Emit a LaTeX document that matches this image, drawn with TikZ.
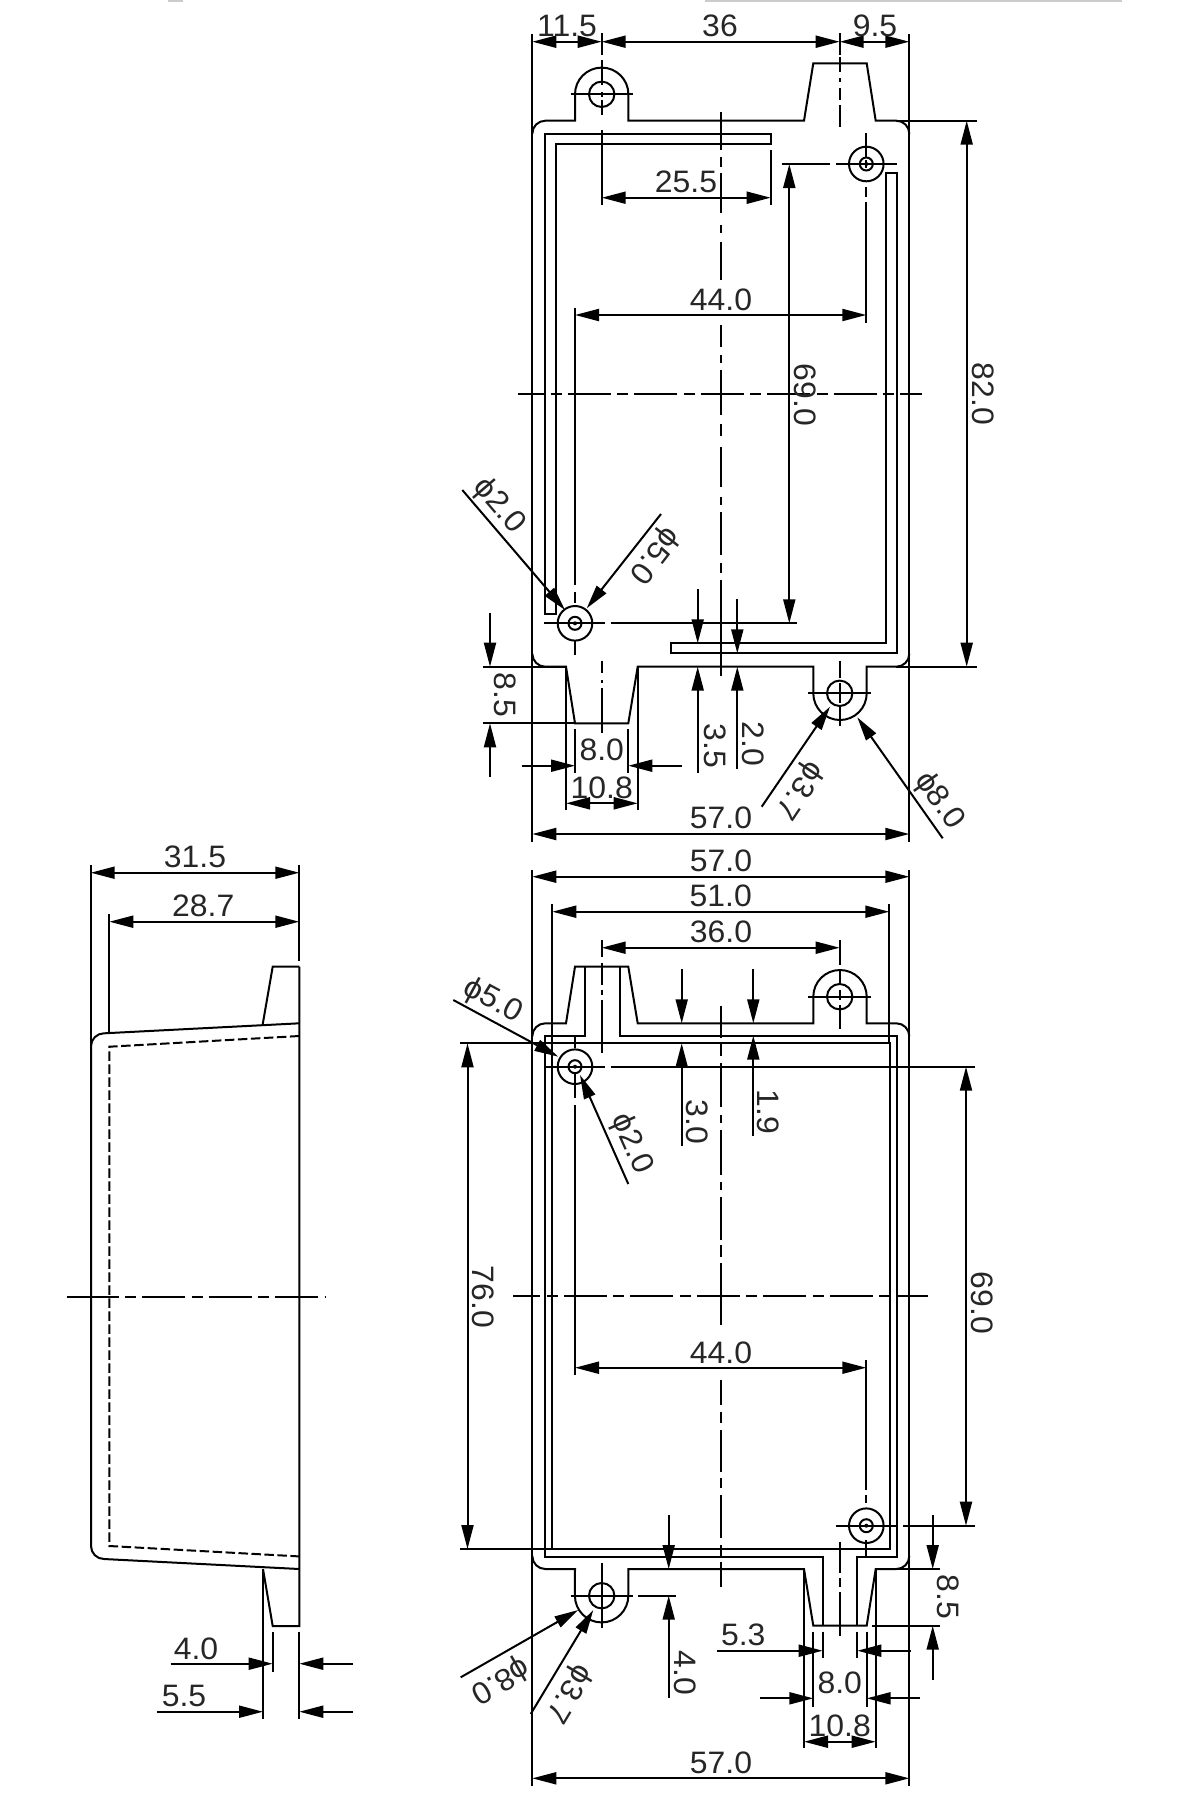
\documentclass[tikz,border=0pt]{standalone}
\usepackage{fontspec}
\setmainfont[FakeStretch=1.03]{Liberation Sans}
\usetikzlibrary{arrows.meta}
\tikzset{
  ln/.style={line width=2pt,line cap=butt,line join=miter,black},
  dimboth/.style={ln,{Triangle[length=24pt,width=12pt]}-{Triangle[length=24pt,width=12pt]}},
  dimto/.style={ln,-{Triangle[length=24pt,width=12pt]}},
  cl/.style={ln,dash pattern=on 43pt off 6.5pt on 11pt off 6pt},
  dsh/.style={ln,dash pattern=on 9.5pt off 3.5pt},
  lbl/.style={inner sep=0pt,font=\fontsize{31}{31}\selectfont,text=black!85}
}
\newcommand{\segs}[2]{\foreach \a/\b in {#2}{\draw[ln] (#1,\a) -- (#1,\b);}}
\newcommand{\bighole}[2]{\draw[ln] (#1,#2) circle[radius=17.3pt] (#1,#2) circle[radius=6.5pt];\fill (#1,#2) circle[radius=2pt];}
\newcommand{\smallhole}[2]{\draw[ln] (#1,#2) circle[radius=12.7pt];\fill (#1,#2) circle[radius=1.2pt];}
\begin{document}
\begin{tikzpicture}[x=1pt,y=-1pt]
\useasboundingbox (0,0) rectangle (1200,1800);
\fill[black!20] (705,0) rectangle (1122,1.6);
\fill[black!20] (168,0) rectangle (183,1.6);

%% ---------- TOP VIEW ----------
\draw[ln] (532.3,34) -- (532.3,841.7);
\draw[ln] (909.3,34) -- (909.3,841.7);
% outline
\draw[ln] (532.3,133.7) arc[start angle=180,end angle=90,radius=13pt] -- (575,120.7) -- (575,94.3)
  arc[start angle=180,end angle=0,radius=26.7pt] -- (628.3,120.7) -- (804,120.7) -- (813.3,63.3) -- (866.7,63.3) -- (875.7,120.7) -- (896.3,120.7)
  arc[start angle=90,end angle=0,radius=13pt];
\draw[ln] (909.3,653.7) arc[start angle=0,end angle=-90,radius=13pt] -- (866.7,666.7) -- (866.7,693.3)
  arc[start angle=360,end angle=180,radius=26.7pt] -- (813.3,666.7) -- (637.7,666.7) -- (628.3,723.3) -- (575,723.3) -- (566,666.7) -- (545.3,666.7)
  arc[start angle=270,end angle=180,radius=13pt];
% inner walls
\draw[ln] (555.7,614) -- (545,614) -- (545,134) -- (770.7,134) -- (770.7,144) -- (555.7,144) -- cycle;
\draw[ln] (886,173.3) -- (896.7,173.3) -- (896.7,653.3) -- (670.7,653.3) -- (670.7,643.3) -- (886,643.3) -- cycle;
% holes
\smallhole{601.7}{94.3}
\smallhole{839.7}{693.3}
\bighole{866.3}{164}
\bighole{575}{623.3}
% centre lines
\segs{721}{112/150,157/167,173/213,225/233,242/280,325/347,355/363,370/415,424/436,447/487,497/505,512/555,563/573,580/676}
\draw[cl,dash phase=17pt] (518,394) -- (921.7,394);
\segs{601.7}{33/55,60/85,92/97,100/115,130/205}
\segs{839.7}{33/55,57/72,78/82,88/100,105/127}
\segs{866.3}{133/157,160/168,187/197,202/323}
\segs{575}{308/585,592/603,640/655}
\segs{839.7}{660.7/678,683/703,707/726}
\segs{601.7}{660.7/673,680/683,688/733}
\draw[ln] (570.7,94.3) -- (633.3,94.3);
\draw[ln] (808,693.3) -- (870.7,693.3);
\draw[ln] (781.7,164) -- (830,164) (836,164) -- (897,164);
\draw[ln] (544,623.3) -- (605,623.3) (610.7,623.3) -- (796.7,623.3);
% extension lines
\draw[ln] (770.7,150) -- (770.7,205);
\draw[ln] (896,120.7) -- (977,120.7);
\draw[ln] (896,666.7) -- (977,666.7);
\draw[ln] (482.7,666.7) -- (566,666.7);
\draw[ln] (482.7,723.3) -- (575,723.3);
\draw[ln] (566,666.7) -- (566,810);
\draw[ln] (637.7,666.7) -- (637.7,810);
\draw[ln] (575,729.3) -- (575,773.3);
\draw[ln] (628.3,729.3) -- (628.3,773.3);
% dimensions
\draw[dimboth] (532.3,41.7) -- (601.7,41.7);
\draw[dimboth] (601.7,41.7) -- (839.7,41.7);
\draw[dimboth] (839.7,41.7) -- (909.3,41.7);
\draw[dimboth] (601.7,197.7) -- (770.7,197.7);
\draw[dimboth] (575,315) -- (866.3,315);
\draw[dimboth] (789.3,164) -- (789.3,623.3);
\draw[dimboth] (966.7,120.7) -- (966.7,666.7);
\draw[dimto] (490,612.7) -- (490,666.7);
\draw[dimto] (490,777.3) -- (490,723.3);
\draw[dimto] (521.7,765.7) -- (575,765.7);
\draw[dimto] (681.7,765.7) -- (628.3,765.7);
\draw[dimboth] (566,803.3) -- (637.7,803.3);
\draw[dimto] (697.7,589.3) -- (697.7,643.3);
\draw[dimto] (697.7,772.7) -- (697.7,666.7);
\draw[dimto] (737.3,599.3) -- (737.3,653.3);
\draw[dimto] (737.3,769.3) -- (737.3,666.7);
\draw[dimboth] (532.3,834) -- (909.3,834);
\draw[dimto] (761.7,806.7) -- (830,706.7);
\draw[dimto] (942.7,838.3) -- (857.3,717.3);
\draw[dimto] (462.3,490) -- (565,610);
\draw[dimto] (661,514) -- (586.7,608.3);
% labels
\node[lbl] (t115) at (567,26) {11.5};
\node[lbl] (t36) at (720,26) {36};
\node[lbl] (t95) at (875,26) {9.5};
\node[lbl] (t255) at (686,181.7) {25.5};
\node[lbl] (t44) at (721,300) {44.0};
\node[lbl,rotate=-90] (t69) at (805,395) {69.0};
\node[lbl,rotate=-90] (t82) at (983,394) {82.0};
\node[lbl,rotate=-90] (t85) at (505,695) {8.5};
\node[lbl] (t80) at (601.7,750) {8.0};
\node[lbl] (t108) at (601.7,788) {10.8};
\node[lbl,rotate=-90] (t35) at (715,746) {3.5};
\node[lbl,rotate=-90] (t20) at (753,744) {2.0};
\node[lbl] (t57a) at (721,818) {57.0};
\node[lbl,rotate=-124] (tp37) at (799,790) {ϕ3.7};
\node[lbl,rotate=-55] (tp80) at (939,801) {ϕ8.0};
\node[lbl,rotate=-49.4] (tp20) at (499,506) {ϕ2.0};
\node[lbl,rotate=-128] (tp50) at (654,555) {ϕ5.0};

%% ---------- FRONT VIEW ----------
\draw[ln] (532.3,870) -- (532.3,1785.7);
\draw[ln] (909.3,870) -- (909.3,1785.7);
\draw[ln] (532.3,1036.3) arc[start angle=180,end angle=90,radius=13pt] -- (566,1023.3) -- (575,966.7) -- (628.3,966.7) -- (637.7,1023.3) -- (813.3,1023.3) -- (813.3,996.7)
  arc[start angle=180,end angle=0,radius=26.7pt] -- (866.7,1023.3) -- (896.3,1023.3)
  arc[start angle=90,end angle=0,radius=13pt];
\draw[ln] (909.3,1556) arc[start angle=0,end angle=-90,radius=13pt] -- (875.7,1569) -- (866.7,1625.7) -- (813.3,1625.7) -- (804,1569) -- (628.3,1569) -- (628.3,1595.7)
  arc[start angle=360,end angle=180,radius=26.7pt] -- (575,1569) -- (545.3,1569)
  arc[start angle=270,end angle=180,radius=13pt];
% walls
\draw[ln] (585,966.7) -- (585,1035.7) -- (545,1035.7) -- (545,1556.7) -- (822.7,1556.7) -- (822.7,1625.7);
\draw[ln] (620,966.7) -- (620,1035.7) -- (897.3,1035.7) -- (897.3,1556.7) -- (857.3,1556.7) -- (857.3,1625.7);
\draw[ln] (552.3,1043.3) rectangle (890,1549);
% holes
\smallhole{839.7}{996.7}
\smallhole{601.7}{1595.7}
\bighole{575}{1066.7}
\bighole{866.3}{1525.7}
% centre lines
\segs{721}{1005.7/1038,1044/1056,1063/1107,1115/1123,1130/1175,1182/1190,1197/1240,1245/1257,1263/1325,1380/1405,1412/1423,1430/1472,1478/1488,1495/1538,1545/1557,1562/1587}
\draw[cl,dash phase=16pt] (513.3,1296.4) -- (928,1296.4);
\segs{601.7}{940/957,963/985,990/995,1000/1053}
\segs{839.7}{940/965,970/985,990/1000,1005/1029}
\segs{575}{1035/1048,1073/1098,1105/1375}
\segs{866.3}{1360/1490,1495/1503,1540/1557}
\segs{839.7}{1541.7/1573,1578/1587,1592/1636}
\segs{601.7}{1563/1628}
\draw[ln] (808,996.7) -- (870.7,996.7);
\draw[ln] (570.7,1595.7) -- (633.3,1595.7);
\draw[ln] (638,1595.7) -- (676,1595.7);
\draw[ln] (545,1066.7) -- (605,1066.7) (610.7,1066.7) -- (975,1066.7);
\draw[ln] (835.7,1525.7) -- (896.7,1525.7) (903,1525.7) -- (975,1525.7);
% extension lines
\draw[ln] (552.3,904.3) -- (552.3,1043.3);
\draw[ln] (889.3,904.3) -- (889.3,1043.3);
\draw[ln] (460,1043.3) -- (552.3,1043.3);
\draw[ln] (460,1549) -- (552.3,1549);
\draw[ln] (875.7,1569) -- (940,1569);
\draw[ln] (872,1625.7) -- (940,1625.7);
\draw[ln] (822.7,1631.7) -- (822.7,1658);
\draw[ln] (857.3,1631.7) -- (857.3,1658);
\draw[ln] (813.3,1631.7) -- (813.3,1706.7);
\draw[ln] (866.7,1631.7) -- (866.7,1706.7);
\draw[ln] (804,1569) -- (804,1748.3);
\draw[ln] (875.7,1569) -- (875.7,1748.3);
% dimensions
\draw[dimboth] (532.3,876.7) -- (909.3,876.7);
\draw[dimboth] (552.3,911.7) -- (889.3,911.7);
\draw[dimboth] (601.7,947.7) -- (839.7,947.7);
\draw[dimboth] (467.5,1043.3) -- (467.5,1549);
\draw[dimboth] (966,1066.7) -- (966,1525.7);
\draw[dimboth] (575,1367.7) -- (866.3,1367.7);
\draw[dimto] (681.7,969) -- (681.7,1023.3);
\draw[dimto] (681.7,1146) -- (681.7,1043.3);
\draw[dimto] (753.3,969) -- (753.3,1023.3);
\draw[dimto] (753.3,1136) -- (753.3,1035.7);
\draw[dimto] (453.3,1000) -- (558.3,1056.7);
\draw[dimto] (628.3,1184) -- (580,1075);
\draw[dimto] (932.7,1515) -- (932.7,1569);
\draw[dimto] (932.7,1680) -- (932.7,1625.7);
\draw[dimto] (668.7,1515) -- (668.7,1569);
\draw[dimto] (668.7,1698) -- (668.7,1595.7);
\draw[dimto] (716.7,1650.7) -- (822.7,1650.7);
\draw[dimto] (910.7,1650.7) -- (857.3,1650.7);
\draw[dimto] (760,1698.3) -- (813.3,1698.3);
\draw[dimto] (920,1698.3) -- (866.7,1698.3);
\draw[dimboth] (804,1741.7) -- (875.7,1741.7);
\draw[dimboth] (532.3,1778.3) -- (909.3,1778.3);
\draw[dimto] (460.7,1677.3) -- (578.3,1610);
\draw[dimto] (530.7,1714) -- (593.3,1610);
% labels
\node[lbl] (b57a) at (721,861) {57.0};
\node[lbl] (b51) at (720.7,896) {51.0};
\node[lbl] (b36) at (721,931.7) {36.0};
\node[lbl,rotate=-90] (b30) at (696.7,1121.7) {3.0};
\node[lbl,rotate=-90] (b19) at (768.3,1111.7) {1.9};
\node[lbl,rotate=-90] (b76) at (483,1297) {76.0};
\node[lbl,rotate=-90] (b69) at (981.7,1303) {69.0};
\node[lbl] (b44) at (721,1352.7) {44.0};
\node[lbl,rotate=-90] (b85) at (948.3,1596.7) {8.5};
\node[lbl,rotate=-90] (b40) at (685,1673) {4.0};
\node[lbl] (b53) at (743.3,1635) {5.3};
\node[lbl] (b80) at (839.7,1683) {8.0};
\node[lbl] (b108) at (839.7,1726) {10.8};
\node[lbl] (b57b) at (721,1762.7) {57.0};
\node[lbl,rotate=-28.4] (bp50) at (493,1001) {ϕ5.0};
\node[lbl,rotate=-66] (bp20) at (631,1144) {ϕ2.0};
\node[lbl,rotate=210] (bp80) at (500,1680) {ϕ8.0};
\node[lbl,rotate=239] (bp37) at (568,1693) {ϕ3.7};

%% ---------- SIDE VIEW ----------
\draw[ln] (90.7,865) -- (90.7,1047);
\draw[ln] (299.3,865) -- (299.3,960.7);
\draw[ln] (109.3,914) -- (109.3,1033);
\draw[ln] (299.3,1023.3) -- (104,1033.3) arc[start angle=90,end angle=180,radius=13pt] -- (91,1546) arc[start angle=180,end angle=270,radius=13pt] -- (299.3,1569);
\draw[ln] (299.3,966.7) -- (272.7,966.7) -- (262.7,1024.3);
\draw[ln] (299.3,966.7) -- (299.3,1626) -- (272.7,1626) -- (263,1569);
\draw[dsh] (299.3,1036) -- (109.3,1046.7) -- (109.3,1546) -- (299.3,1556.4);
\draw[ln] (66.7,1296.6) -- (76,1296.6);
\draw[cl] (75.7,1296.6) -- (325.7,1296.6);
\draw[ln] (272.7,1631.7) -- (272.7,1671.7);
\draw[ln] (263,1569) -- (263,1719);
\draw[ln] (299.3,1631.7) -- (299.3,1719);
\draw[dimboth] (90.7,872.7) -- (299.3,872.7);
\draw[dimboth] (109.3,921.7) -- (299.3,921.7);
\draw[dimto] (170.7,1663.7) -- (272.7,1663.7);
\draw[dimto] (352.7,1663.7) -- (299.3,1663.7);
\draw[dimto] (157.3,1711.7) -- (263,1711.7);
\draw[dimto] (352.7,1711.7) -- (299.3,1711.7);
\node[lbl] (s315) at (195,856.7) {31.5};
\node[lbl] (s287) at (203.3,906) {28.7};
\node[lbl] (s40) at (196,1649) {4.0};
\node[lbl] (s55) at (184,1696) {5.5};
\end{tikzpicture}
\end{document}
